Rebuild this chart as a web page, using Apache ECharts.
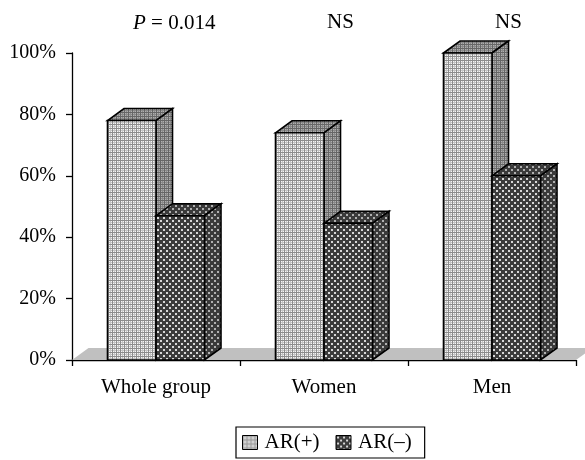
<!DOCTYPE html>
<html><head><meta charset="utf-8"><style>html,body{margin:0;background:#fff}#c{width:585px;height:460px}</style>
<script src="https://cdn.jsdelivr.net/npm/echarts@6/dist/echarts.min.js"></script></head><body><div id="c"></div>
<script>
const categories=['Whole group','Women','Men'];
const arPlus=[78,74,100];
const arMinus=[47,44.5,60];
const significance=['P = 0.014','NS','NS'];
const yTicks=[0,20,40,60,80,100];
const DX=16.5,DY=12;
function pat(size,draw){const c=document.createElement('canvas');c.width=c.height=size;const g=c.getContext('2d');draw(g,size);return {image:c,repeat:'repeat'};}
function gridPat(bg,line,soft){return pat(4,(g,s)=>{g.fillStyle=bg;g.fillRect(0,0,s,s);g.fillStyle=soft;g.fillRect(0,2,s,1);g.fillRect(2,0,1,s);g.fillStyle=line;g.fillRect(0,0,s,1);g.fillRect(0,0,1,s);});}
function dotPat(bg,dot){return pat(6,(g,s)=>{g.fillStyle=bg;g.fillRect(0,0,s,s);g.fillStyle=dot;g.fillRect(1,1,2,2);g.fillRect(4,4,2,2);});}
const lightFront=gridPat('#f6f6f6','#8c8c8c','#c4c4c4'),lightSide=gridPat('#b0b0b0','#666666','#8a8a8a'),darkFront=dotPat('#3c3c3c','#d8d8d8'),darkSide=dotPat('#3a3a3a','#b0b0b0');
function bar(front,side,off){return function(p,api){
 const x0=api.coord([api.value(0),0]),x1=api.coord([api.value(0),api.value(1)]);const w=api.size([1,0])[0]*0.2887;
 const l=x0[0]+off*w,r=l+w,t=x1[1],b=x0[1];const ls={stroke:'#000',lineWidth:1.6};
 const poly=(pts,fill)=>({type:'polygon',shape:{points:pts},style:Object.assign({fill},ls)});
 return {type:'group',children:[
  poly([[l,t],[l+DX,t-DY],[r+DX,t-DY],[r,t]],side),
  poly([[r,t],[r+DX,t-DY],[r+DX,b-DY],[r,b]],side),
  poly([[l,t],[r,t],[r,b],[l,b]],front)]};
};}
const chart=echarts.init(document.getElementById('c'),null,{renderer:'canvas'});
const F='"Liberation Serif","Times New Roman",serif';
chart.setOption({animation:false,textStyle:{fontFamily:F},
 grid:{left:72,right:9,top:53,bottom:100},
 legend:{left:236,top:427,itemWidth:15,itemHeight:14,itemGap:16,padding:[5,13,5,6],borderColor:'#000',borderWidth:1.2,borderRadius:0,
  textStyle:{fontFamily:F,fontSize:21,color:'#000',padding:[0,0,0,2]},
  data:[{name:'AR(+)',icon:'rect',itemStyle:{color:lightFront,borderColor:'#000',borderWidth:1}},{name:'AR(–)',icon:'rect',itemStyle:{color:darkFront,borderColor:'#000',borderWidth:1}}]},
 xAxis:{type:'category',data:categories,axisLine:{lineStyle:{color:'#000',width:1.3}},axisTick:{show:true,length:6,lineStyle:{color:'#000',width:1.3}},
  axisLabel:{color:'#000',fontSize:21,margin:17},splitLine:{show:false}},
 yAxis:{type:'value',min:0,max:100,interval:20,axisLine:{show:true,lineStyle:{color:'#000',width:1.3}},axisTick:{show:true,length:6,lineStyle:{color:'#000',width:1.3}},
  axisLabel:{color:'#000',fontSize:20,margin:16,padding:[8,0,0,0],formatter:'{value}%'},splitLine:{show:false}},
 series:[
  {type:'custom',silent:true,z:1,data:[[0,0]],renderItem(p,api){const a=api.coord([0,0]);const w=api.size([1,0])[0]*3;
    return {type:'polygon',shape:{points:[[p.coordSys.x,a[1]],[p.coordSys.x+DX,a[1]-DY],[p.coordSys.x+w+DX,a[1]-DY],[p.coordSys.x+w,a[1]]]},style:{fill:'#c0c0c0'}};}},
  {name:'AR(+)',type:'custom',z:2,itemStyle:{color:lightFront},encode:{x:0,y:1},data:arPlus.map((v,i)=>[i,v]),renderItem:bar(lightFront,lightSide,-1)},
  {name:'AR(–)',type:'custom',z:3,itemStyle:{color:darkFront},encode:{x:0,y:1},data:arMinus.map((v,i)=>[i,v]),renderItem:bar(darkFront,darkSide,0)}
 ],
 graphic:[
  {type:'text',left:133,top:13,style:{rich:{i:{fontStyle:'italic',fontFamily:F,fontSize:21,fill:'#000'},n:{fontFamily:F,fontSize:21,fill:'#000'}},text:'{i|P}{n| = 0.014}'}},
  {type:'text',left:327,top:12,style:{text:significance[1],font:'21px '+F,fill:'#000'}},
  {type:'text',left:495,top:12,style:{text:significance[2],font:'21px '+F,fill:'#000'}}
 ]});
</script></body></html>
